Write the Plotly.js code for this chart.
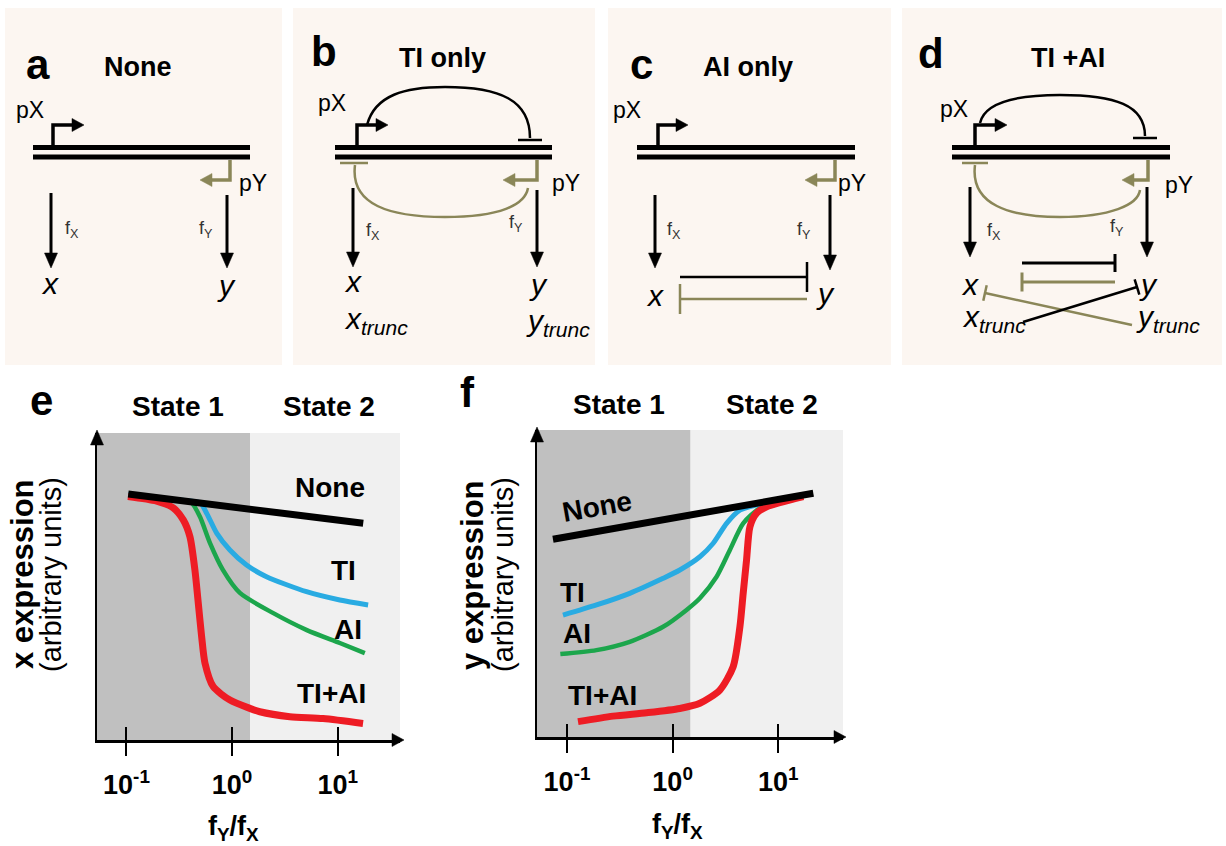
<!DOCTYPE html>
<html>
<head>
<meta charset="utf-8">
<script src="https://cdn.plot.ly/plotly-3.0.1.min.js"></script>
<style>html,body{margin:0;padding:0;background:#fff;}#chart{width:1226px;height:846px;}</style>
</head>
<body>
<div id="chart"></div>
<script>
// ---------------- DATA (x values are log10(fY/fX); y values arbitrary expression units) ----------------
const xTickVals = [-1, 0, 1];
const xTickText = ['10<sup>-1</sup>', '10<sup>0</sup>', '10<sup>1</sup>'];
const stateBoundaryLog = 0.17;          // border between State 1 and State 2
const stateNames = ['State 1', 'State 2'];
const seriesNames = ['None', 'TI', 'AI', 'TI+AI'];

// panel e : x expression
const eNoneLogRatio = [-0.983, 0.075, 1.242];
const eNoneExpr     = [0.801, 0.756, 0.706];
const eTILogRatio   = [-0.983, -0.588, -0.304, -0.241, -0.146, -0.021, 0.137, 0.326, 0.705, 1.020, 1.288];
const eTIExpr       = [0.800, 0.784, 0.772, 0.739, 0.674, 0.619, 0.570, 0.532, 0.483, 0.456, 0.440];
const eAILogRatio   = [-0.983, -0.494, -0.383, -0.304, -0.210, -0.087, 0.074, 0.386, 0.708, 1.020, 1.257];
const eAIExpr       = [0.798, 0.779, 0.772, 0.727, 0.642, 0.554, 0.479, 0.414, 0.358, 0.316, 0.283];
const eTIAILogRatio = [-0.986, -0.714, -0.557, -0.462, -0.399, -0.352, -0.320, -0.288, -0.257, -0.179, -0.020, 0.168, 0.263, 0.547, 0.862, 1.240];
const eTIAIExpr     = [0.793, 0.778, 0.756, 0.717, 0.662, 0.554, 0.446, 0.336, 0.251, 0.174, 0.130, 0.103, 0.092, 0.076, 0.070, 0.054];

// panel f : y expression
const fNoneLogRatio = [-1.133, 0.068, 1.332];
const fNoneExpr     = [0.644, 0.717, 0.794];
const fTILogRatio   = [-1.038, -0.721, -0.406, -0.090, 0.068, 0.258, 0.384, 0.511, 0.637, 0.858, 1.237];
const fTIExpr       = [0.397, 0.430, 0.468, 0.517, 0.544, 0.587, 0.631, 0.696, 0.739, 0.761, 0.788];
const fAILogRatio   = [-1.063, -0.721, -0.406, -0.090, 0.132, 0.258, 0.416, 0.542, 0.668, 0.827, 1.237];
const fAIExpr       = [0.270, 0.283, 0.310, 0.359, 0.414, 0.452, 0.522, 0.609, 0.696, 0.745, 0.783];
const fTIAILogRatio = [-0.896, -0.564, -0.247, 0.068, 0.258, 0.447, 0.573, 0.637, 0.668, 0.700, 0.732, 0.795, 0.890, 1.237];
const fTIAIExpr     = [0.050, 0.068, 0.079, 0.093, 0.110, 0.153, 0.229, 0.359, 0.468, 0.577, 0.685, 0.729, 0.750, 0.783];

const eRange = [-1.279, 1.590];
const fRange = [-1.284, 1.613];

// ---------------- STYLE / HELPERS ----------------
const W = 1226, H = 846;
const X = v => v / W;
const Y = v => 1 - v / H;
const FONT = 'Liberation Sans, Arial, Helvetica, sans-serif';
const BLACK = '#000000', OLIVE = '#8a8658', BG = '#fcf6f1';
const GREEN = '#1ca64c', BLUE = '#29abe2', RED = '#ee1c24';
const DARK = '#c0c0c0', LIGHT = '#f0f0f0';
const shapes = [], ann = [];

function rect(x0, y0, x1, y1, fill) {
  shapes.push({type:'rect', xref:'paper', yref:'paper', layer:'below', x0:X(x0), y0:Y(y1), x1:X(x1), y1:Y(y0), fillcolor:fill, line:{width:0}});
}
function seg(x0, y0, x1, y1, color, w) {
  shapes.push({type:'line', xref:'paper', yref:'paper', x0:X(x0), y0:Y(y0), x1:X(x1), y1:Y(y1), line:{color:color, width:w}});
}
function pth(d, color, w, fill) {
  const p = d.replace(/(-?[\d.]+)\s*,\s*(-?[\d.]+)/g, (m, a, b) => X(+a).toFixed(5) + ',' + Y(+b).toFixed(5));
  shapes.push({type:'path', xref:'paper', yref:'paper', path:p, line:{color:color, width:w}, fillcolor: fill || 'rgba(0,0,0,0)'});
}
function tri(a, b, c, color) { pth(`M${a[0]},${a[1]} L${b[0]},${b[1]} L${c[0]},${c[1]} Z`, color, 0.5, color); }
function headR(tx, ty, c) { tri([tx-12, ty-6.5], [tx-12, ty+6.5], [tx, ty], c); }
function headL(tx, ty, c) { tri([tx+12, ty-6.5], [tx+12, ty+6.5], [tx, ty], c); }
function headD(tx, ty, c) { tri([tx-6.5, ty-15], [tx+6.5, ty-15], [tx, ty], c); }
function headU(tx, ty, c) { tri([tx-6.5, ty+15], [tx+6.5, ty+15], [tx, ty], c); }
function dna(x0, x1) { seg(x0, 147.5, x1, 147.5, BLACK, 5); seg(x0, 157, x1, 157, BLACK, 5); }
function promF(x, tip) { pth(`M${x},146 L${x},125 L${tip-10},125`, BLACK, 3.5); headR(tip, 125, BLACK); }
function promR(x, tip) { pth(`M${x},160 L${x},180 L${tip+10},180`, OLIVE, 3.5); headL(tip, 180, OLIVE); }
function down(x, y0, tip) { seg(x, y0, x, tip-13, BLACK, 3); headD(x, tip, BLACK); }
function inhibit(x0, y0, x1, y1, half, color, w) {
  seg(x0, y0, x1, y1, color, w);
  const dx = x1-x0, dy = y1-y0, L = Math.hypot(dx, dy), nx = -dy/L, ny = dx/L;
  seg(x1+nx*half, y1+ny*half, x1-nx*half, y1-ny*half, color, w);
}
function txt(x, y, text, size, o) {
  o = o || {};
  ann.push({xref:'paper', yref:'paper', x:X(x), y:Y(y), text:text, showarrow:false,
    xanchor:o.xa || 'center', yanchor:'middle', textangle:o.angle || 0,
    font:{family:FONT, size:size, color:o.color || '#000', weight:o.bold ? 'bold' : 'normal', style:o.italic ? 'italic' : 'normal'}});
}

// ---------------- TOP PANELS (diagrams) ----------------
const PSZ = 23, FSZ = 18, ISZ = 30, TSZ = 27, LSZ = 42;
// panel a
rect(5, 8, 282, 365, BG);
txt(38, 64, 'a', LSZ, {bold:true});
txt(138, 67, 'None', TSZ, {bold:true});
txt(30, 110, 'pX', PSZ);
promF(53, 84); dna(33, 250); promR(230, 200);
txt(253, 183, 'pY', PSZ);
down(51, 193, 268); down(227, 195, 268);
txt(72, 229, 'f<sub>X</sub>', FSZ, {color:'#333'});
txt(206, 229, 'f<sub>Y</sub>', FSZ, {color:'#333'});
txt(50, 283, 'x', ISZ, {italic:true});
txt(226, 285, 'y', ISZ, {italic:true});

// panel b
rect(293, 8, 595, 365, BG);
txt(324, 52, 'b', LSZ, {bold:true});
txt(442, 58, 'TI only', TSZ, {bold:true});
txt(332, 103, 'pX', PSZ);
pth('M367,125 C375,95 405,87 445,87 C500,87 530,100 530,138', BLACK, 2.5);
seg(518, 140, 542, 140, BLACK, 2.5);
promF(357, 388); dna(335, 552);
pth('M355,165 C350,205 390,217 445,217 C500,217 525,205 528,188', OLIVE, 2.5);
seg(340, 163, 368, 163, OLIVE, 2.5);
promR(537, 503);
txt(566, 183, 'pY', PSZ);
down(353, 188, 267); down(537, 190, 267);
txt(373, 231, 'f<sub>X</sub>', FSZ, {color:'#333'});
txt(516, 224, 'f<sub>Y</sub>', FSZ, {color:'#333'});
txt(353, 282, 'x', ISZ, {italic:true});
txt(342, 320, 'x<sub>trunc</sub>', ISZ, {italic:true, xa:'left'});
txt(538, 284, 'y', ISZ, {italic:true});
txt(524, 322, 'y<sub>trunc</sub>', ISZ, {italic:true, xa:'left'});

// panel c
rect(608, 8, 891, 365, BG);
txt(641, 64, 'c', LSZ, {bold:true});
txt(748, 67, 'AI only', TSZ, {bold:true});
txt(627, 110, 'pX', PSZ);
promF(658, 688); dna(637, 855); promR(835, 805);
txt(852, 183, 'pY', PSZ);
down(655, 195, 268); down(830, 195, 270);
txt(674, 230, 'f<sub>X</sub>', FSZ, {color:'#333'});
txt(804, 230, 'f<sub>Y</sub>', FSZ, {color:'#333'});
inhibit(680, 277, 807, 277, 15, BLACK, 2.5);
inhibit(807, 299, 680, 299, 15, OLIVE, 2.5);
txt(655, 295, 'x', ISZ, {italic:true});
txt(825, 293, 'y', ISZ, {italic:true});

// panel d
rect(902, 8, 1222, 365, BG);
txt(931, 53, 'd', LSZ, {bold:true});
txt(1068, 58, 'TI +AI', TSZ, {bold:true});
txt(954, 109, 'pX', PSZ);
pth('M980,123 C985,101 1020,95 1060,95 C1115,95 1145,105 1145,136', BLACK, 2.5);
seg(1133, 138, 1157, 138, BLACK, 2.5);
promF(975, 1007); dna(952, 1170);
pth('M975,165 C970,205 1010,217 1060,217 C1110,217 1138,205 1140,190', OLIVE, 2.5);
seg(962, 163, 988, 163, OLIVE, 2.5);
promR(1148, 1122);
txt(1179, 185, 'pY', PSZ);
down(970, 187, 257); down(1147, 187, 257);
txt(994, 231, 'f<sub>X</sub>', FSZ, {color:'#333'});
txt(1117, 228, 'f<sub>Y</sub>', FSZ, {color:'#333'});
inhibit(1022, 263, 1115, 263, 9, BLACK, 3);
inhibit(1115, 282, 1022, 282, 9.5, OLIVE, 3);
inhibit(1132, 325, 985, 293, 8, OLIVE, 2.5);
inhibit(1023, 322, 1137, 287, 8, BLACK, 2.5);
txt(970, 284, 'x', ISZ, {italic:true});
txt(1148, 284, 'y', ISZ, {italic:true});
txt(960, 318, 'x<sub>trunc</sub>', ISZ, {italic:true, xa:'left'});
txt(1134, 318, 'y<sub>trunc</sub>', ISZ, {italic:true, xa:'left'});

// ---------------- BOTTOM PANELS (plots) ----------------
function shade(xr, yr, range) {
  shapes.push({type:'rect', xref:xr, yref:yr + ' domain', layer:'below', x0:range[0], x1:stateBoundaryLog, y0:0, y1:1, fillcolor:DARK, line:{width:0}});
  shapes.push({type:'rect', xref:xr, yref:yr + ' domain', layer:'below', x0:stateBoundaryLog, x1:range[1], y0:0, y1:1, fillcolor:LIGHT, line:{width:0}});
}
shade('x', 'y', eRange);
shade('x2', 'y2', fRange);
// axis arrowheads
headU(97, 430, BLACK); headR(404, 740, BLACK);
headU(537, 427, BLACK); headR(846, 737, BLACK);

// panel letters, state headings, axis titles
txt(41, 400, 'e', LSZ, {bold:true});
txt(467, 392, 'f', LSZ, {bold:true});
txt(178, 406, stateNames[0], 28, {bold:true});
txt(329, 406, stateNames[1], 28, {bold:true});
txt(619, 404, stateNames[0], 28, {bold:true});
txt(772, 404, stateNames[1], 28, {bold:true});
txt(22, 574, 'x expression', 31, {bold:true, angle:-90});
txt(51, 575, '(arbitrary units)', 29, {angle:-90});
txt(472, 575, 'y expression', 31, {bold:true, angle:-90});
txt(503, 575, '(arbitrary units)', 29, {angle:-90});
txt(234, 828, 'f<sub>Y</sub>/f<sub>X</sub>', 27, {bold:true});
txt(677, 826, 'f<sub>Y</sub>/f<sub>X</sub>', 27, {bold:true});

// curve labels
txt(367, 487, seriesNames[0], 28, {bold:true, xa:'right'});
txt(358, 570, seriesNames[1], 28, {bold:true, xa:'right'});
txt(364, 629, seriesNames[2], 28, {bold:true, xa:'right'});
txt(368, 693, seriesNames[3], 28, {bold:true, xa:'right'});
txt(597, 506, seriesNames[0], 28, {bold:true, angle:-10});
txt(572, 592, seriesNames[1], 28, {bold:true});
txt(577, 633, seriesNames[2], 28, {bold:true});
txt(602, 695, seriesNames[3], 28, {bold:true});

const spl = (c, w) => ({color:c, width:w, shape:'spline', smoothing:0.7});
const traces = [
  {x:eAILogRatio, y:eAIExpr, xaxis:'x', yaxis:'y', mode:'lines', line:spl(GREEN, 4.5), name:seriesNames[2]},
  {x:eTILogRatio, y:eTIExpr, xaxis:'x', yaxis:'y', mode:'lines', line:spl(BLUE, 5), name:seriesNames[1]},
  {x:eTIAILogRatio, y:eTIAIExpr, xaxis:'x', yaxis:'y', mode:'lines', line:spl(RED, 7), name:seriesNames[3]},
  {x:eNoneLogRatio, y:eNoneExpr, xaxis:'x', yaxis:'y', mode:'lines', line:{color:BLACK, width:7}, name:seriesNames[0]},
  {x:fAILogRatio, y:fAIExpr, xaxis:'x2', yaxis:'y2', mode:'lines', line:spl(GREEN, 4.5), name:seriesNames[2]},
  {x:fTILogRatio, y:fTIExpr, xaxis:'x2', yaxis:'y2', mode:'lines', line:spl(BLUE, 5), name:seriesNames[1]},
  {x:fTIAILogRatio, y:fTIAIExpr, xaxis:'x2', yaxis:'y2', mode:'lines', line:spl(RED, 7), name:seriesNames[3]},
  {x:fNoneLogRatio, y:fNoneExpr, xaxis:'x2', yaxis:'y2', mode:'lines', line:{color:BLACK, width:7}, name:seriesNames[0]},
  // carriers for the inward half of the crossing tick marks
  {x:[], y:[], xaxis:'x3', yaxis:'y', mode:'lines', hoverinfo:'skip', showlegend:false},
  {x:[], y:[], xaxis:'x4', yaxis:'y2', mode:'lines', hoverinfo:'skip', showlegend:false}
];

function xAxis(dom, range, anchor) {
  return {domain:dom, range:range, anchor:anchor, showline:true, linewidth:2.5, linecolor:BLACK,
    ticks:'outside', ticklen:13, tickwidth:2, tickcolor:BLACK, tickvals:xTickVals, ticktext:xTickText,
    tickfont:{family:FONT, size:27, weight:'bold', color:BLACK}, ticklabelstandoff:6,
    showgrid:false, zeroline:false, fixedrange:true};
}
function innerTicks(over, range, anchor) {
  return {overlaying:over, anchor:anchor, side:'bottom', range:range, tickvals:xTickVals,
    ticks:'inside', ticklen:13, tickwidth:2, tickcolor:BLACK, showticklabels:false,
    showline:false, showgrid:false, zeroline:false, fixedrange:true};
}
function yAxis(dom, anchor) {
  return {domain:dom, range:[0, 1], anchor:anchor, showline:true, linewidth:2.5, linecolor:BLACK,
    ticks:'', showticklabels:false, showgrid:false, zeroline:false, fixedrange:true};
}

const layout = {
  width:W, height:H, margin:{l:0, r:0, t:0, b:0},
  paper_bgcolor:'#ffffff', plot_bgcolor:'rgba(0,0,0,0)', showlegend:false,
  font:{family:FONT},
  xaxis: xAxis([X(97), X(400)], eRange, 'y'),
  yaxis: yAxis([Y(740), Y(433)], 'x'),
  xaxis2: xAxis([X(537), X(843)], fRange, 'y2'),
  yaxis2: yAxis([Y(737), Y(430)], 'x2'),
  xaxis3: innerTicks('x', eRange, 'y'),
  xaxis4: innerTicks('x2', fRange, 'y2'),
  shapes: shapes,
  annotations: ann
};

Plotly.newPlot('chart', traces, layout, {displayModeBar:false, staticPlot:true});
</script>
</body>
</html>
